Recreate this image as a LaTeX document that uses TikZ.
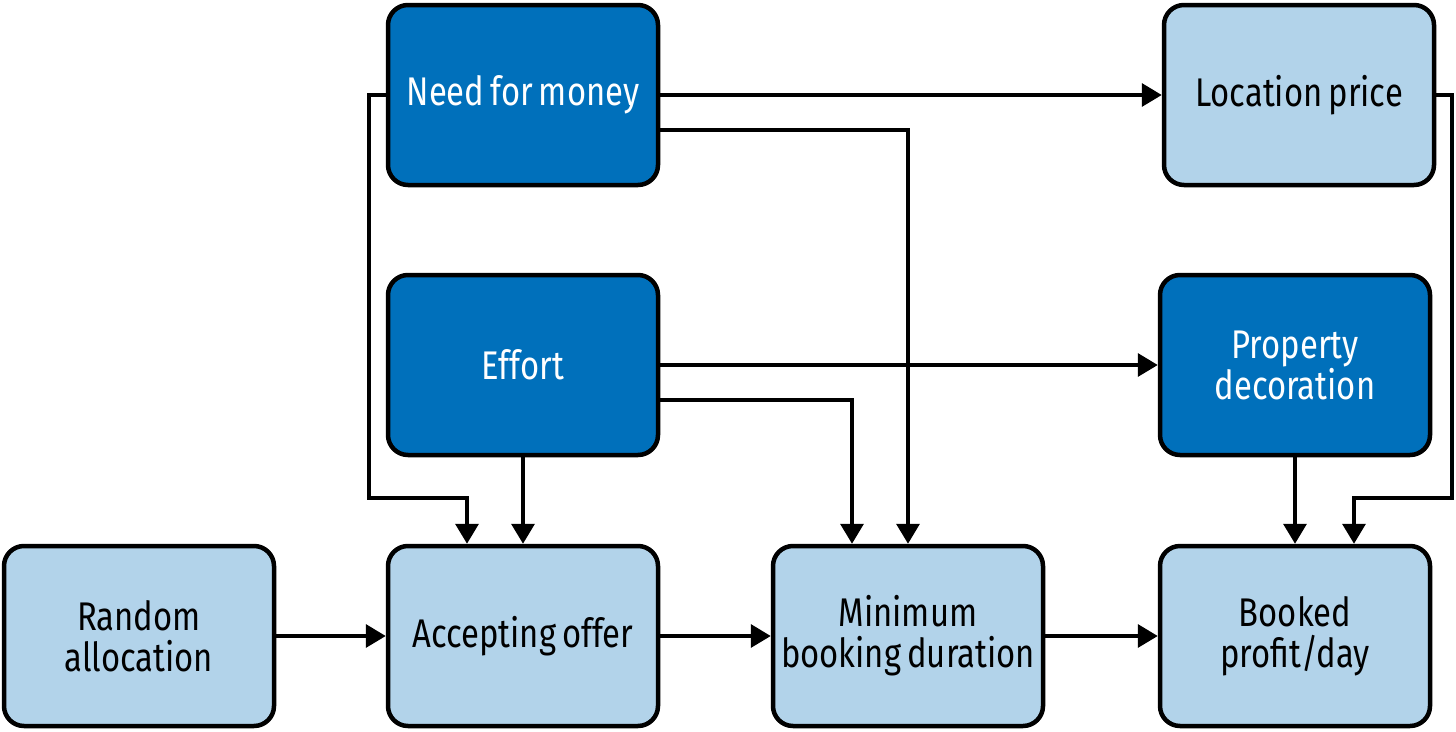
\documentclass[tikz,border=0pt]{standalone}
\usepackage{fontspec}
\setmainfont{Fira Sans}[FakeStretch=0.82,WordSpace=0.7]
\usepackage{xcolor}
\usetikzlibrary{arrows.meta}
\definecolor{darkblue}{RGB}{0,112,187}
\definecolor{lightblue}{RGB}{178,211,234}

\begin{document}
\begin{tikzpicture}[x=1pt,y=-1pt,
    box/.style={draw=black,line width=4.5pt,rounded corners=20pt,minimum width=270pt,minimum height=180pt,inner sep=2pt,align=center,font=\fontsize{40}{41}\selectfont},
    dark/.style={box,fill=darkblue,text=white},
    light/.style={box,fill=lightblue,text=black},
    arr/.style={line width=3.5pt,-{Triangle[length=20pt,width=23pt]}}]
    \useasboundingbox (0,0) rectangle (1456,731);
		\node[dark] (money) at (523,95) {Need for money};
		\node[light] (location) at (1299,95) {Location price};
		\node[dark] (effort) at (523,365) {Effort};
		\node[dark] (decor) at (1295,365) {Property\\decoration};
		\node[light] (random) at (139,636) {Random\\allocation};
		\node[light] (accept) at (523,636) {Accepting offer};
		\node[light] (minimum) at (908,636) {Minimum\\booking duration};
		\node[light] (booked) at (1295,636) {Booked\\profit/day};
        \draw [arr] (money) -- (location);
		\draw [arr] ([yshift=-35pt]money.east) -| (minimum.north);
		\draw [arr] (money.west) -| (369,498) -| ([xshift=-56pt]accept.north);
		\draw [arr] (effort) -- (decor);
		\draw [arr] ([yshift=-35pt]effort.east) -| ([xshift=-56pt]minimum.north);
		\draw [arr] (effort) -- (accept);
		\draw [arr] (location.east) -| (1452,498) -| ([xshift=59pt]booked.north);
		\draw [arr] (decor) -- (booked);
		\draw [arr] (random) -- (accept);
		\draw [arr] (accept) -- (minimum);
		\draw [arr] (minimum) -- (booked);
    \end{tikzpicture}
\end{document}
